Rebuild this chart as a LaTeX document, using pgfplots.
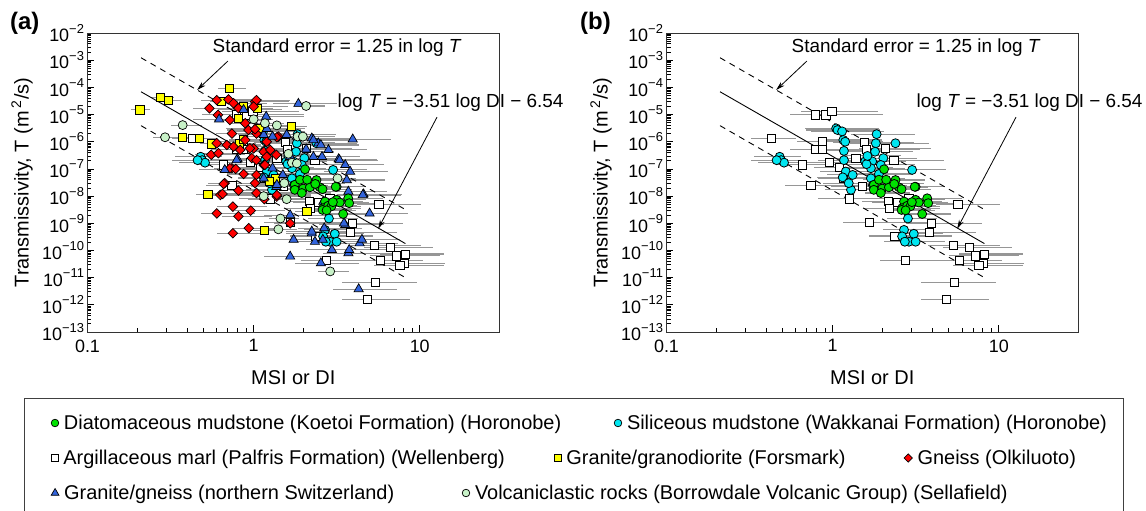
\documentclass[border=0pt]{standalone}
\usepackage{fontspec}
\setmainfont{Liberation Sans}
\usepackage{pgfplots}
\pgfplotsset{compat=1.18}
\usepackage{pgfplotstable}
\usetikzlibrary{arrows.meta}

\definecolor{cgreen}{RGB}{0,225,0}
\definecolor{ccyan}{RGB}{0,230,240}
\definecolor{cyellow}{RGB}{255,255,0}
\definecolor{cred}{RGB}{255,0,0}
\definecolor{cblue}{RGB}{50,100,220}
\definecolor{clgreen}{RGB}{200,242,200}
\definecolor{cbar}{RGB}{150,150,150}

% Argillaceous marl (Wellenberg)
\pgfplotstableread{
x y em ep
0.79 9.7e-6 0.30 1.30
0.91 9.7e-6 0.30 1.20
0.99 1.3e-5 0.35 0.90
0.43 1.3e-6 0.25 0.40
0.87 1.0e-6 0.30 1.00
0.79 5.3e-7 0.30 1.10
0.87 5.3e-7 0.35 1.20
0.66 1.4e-7 0.30 0.90
0.74 2.4e-8 0.30 0.90
0.96 1.7e-7 0.30 1.00
1.10 1.15e-7 0.30 1.10
1.26 7.9e-9 0.35 1.20
1.55 9.3e-7 0.35 1.00
1.59 5.3e-7 0.30 1.10
2.07 5.7e-7 0.30 0.90
2.34 2.1e-7 0.30 1.00
1.38 2.5e-7 0.30 1.10
1.16 4.5e-8 0.30 1.00
1.51 2.2e-8 0.35 1.20
2.16 6.3e-9 0.30 1.10
2.20 3.6e-9 0.30 1.00
2.88 8.3e-9 0.30 1.10
2.45 5.8e-9 0.30 1.00
1.66 1.1e-9 0.30 1.40
2.37 3.4e-10 0.30 1.20
3.83 4.6e-10 0.30 0.90
3.94 1.0e-9 0.30 1.00
2.75 4.3e-11 0.30 1.30
4.86 1.6e-12 0.30 0.80
5.68 5.0e-9 0.26 0.78
5.36 1.5e-10 0.30 0.90
6.64 1.3e-10 0.30 0.80
7.20 6.3e-11 0.30 0.85
8.18 7.4e-11 0.30 0.70
8.07 3.4e-11 0.30 0.75
7.60 2.9e-11 0.30 0.85
5.78 4.2e-11 0.30 0.80
5.40 6.8e-12 0.37 0.78
}\tabSq

% Siliceous mudstone (Horonobe)
\pgfplotstableread{
x y em ep
1.05 3.1e-6 0.35 0.80
1.07 2.7e-6 0.35 0.80
1.14 2.4e-6 0.35 0.80
1.16 1.16e-6 0.30 0.70
1.19 1.0e-6 0.30 0.70
1.17 4.6e-7 0.30 0.70
1.17 2.1e-7 0.30 0.70
1.20 8.0e-8 0.30 0.60
1.15 4.9e-8 0.30 0.60
1.32 6.0e-8 0.30 0.60
1.29 1.7e-8 0.30 0.60
1.84 1.9e-6 0.30 0.70
1.82 8.8e-7 0.30 0.70
1.80 4.3e-7 0.30 0.70
2.39 8.8e-7 0.30 0.60
2.02 2.5e-7 0.30 0.60
1.73 1.9e-7 0.30 0.60
1.57 1.9e-7 0.30 0.60
1.70 1.06e-7 0.30 0.60
1.95 1.4e-7 0.30 0.60
1.70 4.5e-8 0.30 0.60
3.01 9.2e-8 0.30 0.60
0.48 2.8e-7 0.30 0.35
0.49 2.1e-7 0.30 0.35
0.51 1.7e-7 0.30 0.35
0.46 2.1e-7 0.30 0.35
2.84 1.5e-9 0.25 0.50
2.69 5.7e-10 0.25 0.50
2.62 3.3e-10 0.25 0.50
3.08 4.1e-10 0.25 0.50
2.88 2.1e-10 0.25 0.50
3.16 2.1e-10 0.25 0.50
2.72 2.1e-10 0.25 0.50
1.60 1.5e-7 0.30 0.60
1.25 3.0e-8 0.30 0.60
1.75 2.5e-8 0.30 0.60
1.62 3.0e-7 0.30 0.60
1.90 6.5e-8 0.30 0.60
}\tabCy

% Diatomaceous mudstone (Horonobe)
\pgfplotstableread{
x y em ep
2.04 9.7e-8 0.20 0.50
2.39 3.9e-8 0.20 0.50
1.77 2.6e-8 0.20 0.50
1.99 1.9e-8 0.20 0.50
1.77 1.7e-8 0.20 0.50
1.95 1.3e-8 0.20 0.50
2.18 2.1e-8 0.20 0.50
2.51 2.1e-8 0.20 0.50
3.16 2.2e-8 0.20 0.50
2.69 6.3e-9 0.20 0.50
3.16 7.3e-9 0.20 0.50
3.30 5.8e-9 0.20 0.50
3.71 8.3e-9 0.20 0.50
3.76 5.5e-9 0.20 0.50
2.62 3.6e-9 0.20 0.50
2.81 4.4e-9 0.20 0.50
2.94 4.2e-9 0.20 0.50
3.46 2.2e-9 0.20 0.50
2.60 3.1e-9 0.20 0.50
2.35 2.8e-8 0.20 0.50
2.60 1.8e-8 0.20 0.50
1.90 4.0e-8 0.20 0.50
2.10 4.0e-8 0.20 0.50
3.12 2.2e-8 0.20 0.50
3.00 6.0e-9 0.20 0.50
2.75 3.0e-9 0.20 0.50
}\tabGr

% Granite/granodiorite (Forsmark)
\pgfplotstableread{
x y em ep
0.207 1.48e-5 0.12 0.15
0.276 4.2e-5 0.12 0.20
0.307 3.4e-5 0.12 0.20
0.716 9.2e-5 0.15 0.25
0.374 1.4e-6 0.12 0.20
0.470 1.34e-6 0.12 0.20
0.560 8.3e-7 0.15 0.25
0.643 3.0e-5 0.15 0.25
0.811 7.3e-6 0.15 0.25
1.05 1.7e-5 0.15 0.25
1.08 3.1e-6 0.15 0.25
0.822 8.3e-7 0.15 0.25
1.68 3.6e-6 0.15 0.25
0.530 1.17e-8 0.15 0.25
1.35 4.5e-8 0.15 0.25
2.09 2.7e-9 0.15 0.25
1.16 5.3e-10 0.15 0.25
0.87 2.0e-5 0.15 0.25
0.87 1.2e-6 0.15 0.25
1.25 3.5e-8 0.15 0.25
}\tabYe

% Gneiss (Olkiluoto)
\pgfplotstableread{
x y em ep
0.542 1.7e-5 0.20 0.60
0.60 3.4e-5 0.20 0.60
0.705 3.6e-5 0.20 0.60
0.757 2.6e-5 0.20 0.60
0.81 1.7e-5 0.20 0.60
1.02 3.0e-5 0.20 0.60
1.04 3.4e-5 0.20 0.60
1.00 1.95e-5 0.20 0.60
0.61 9.7e-6 0.20 0.60
0.72 6.3e-6 0.20 0.60
0.74 2.0e-6 0.20 0.60
0.89 4.8e-6 0.20 0.60
0.93 2.7e-6 0.20 0.60
1.04 2.0e-6 0.20 0.60
0.60 8.8e-7 0.20 0.60
0.69 7.6e-7 0.20 0.60
0.757 6.6e-7 0.20 0.60
0.83 5.0e-7 0.20 0.60
0.555 3.3e-7 0.20 0.60
0.614 3.8e-7 0.20 0.60
1.00 5.7e-7 0.20 0.60
1.15 4.3e-7 0.20 0.60
1.20 2.8e-7 0.20 0.60
0.975 2.5e-7 0.20 0.60
1.37 3.3e-7 0.20 0.60
1.41 1.55e-6 0.20 0.60
1.20 1.0e-6 0.20 0.60
1.15 1.4e-7 0.20 0.60
0.87 6.5e-8 0.20 0.60
0.74 1.06e-7 0.20 0.60
0.67 3.0e-8 0.20 0.60
1.04 6.0e-8 0.20 0.60
1.02 3.0e-8 0.20 0.60
1.04 1.3e-8 0.20 0.60
1.16 7.7e-9 0.20 0.60
0.81 1.6e-8 0.20 0.60
0.63 1.1e-8 0.20 0.60
0.60 2.3e-9 0.20 0.70
0.75 4.1e-9 0.20 0.60
0.81 1.8e-9 0.20 0.60
0.96 2.9e-9 0.20 0.60
0.935 6.6e-10 0.20 0.60
0.75 4.3e-10 0.20 0.55
1.38 9.6e-9 0.20 0.60
1.66 1.0e-9 0.20 0.60
1.02 2.9e-6 0.20 0.60
0.89 1.16e-6 0.20 0.60
1.38 1.46e-6 0.20 0.60
0.95 5.7e-7 0.20 0.60
1.26 5.0e-7 0.20 0.60
1.04 2.1e-7 0.20 0.60
0.72 1.06e-7 0.20 0.60
0.78 1.0e-7 0.20 0.60
1.17 1.4e-7 0.20 0.60
1.38 1.1e-8 0.20 0.60
0.65 1.2e-8 0.20 0.60
0.66 2.8e-8 0.20 0.60
}\tabRd

% Granite/gneiss (northern Switzerland)
\pgfplotstableread{
x y em ep
0.62 6.7e-6 0.30 0.70
0.87 1.5e-5 0.30 0.70
1.86 2.5e-5 0.30 0.70
1.19 8.4e-6 0.30 0.70
1.15 1.8e-6 0.30 0.70
1.30 1.55e-6 0.30 0.70
1.58 1.8e-6 0.30 0.70
1.82 1.55e-6 0.30 0.70
2.24 1.34e-6 0.30 0.70
2.45 8.8e-7 0.30 0.70
2.82 5.0e-7 0.30 0.70
2.29 2.8e-7 0.30 0.70
2.58 2.8e-7 0.30 0.70
3.95 1.23e-6 0.30 0.70
3.25 2.3e-7 0.30 0.70
3.56 1.4e-7 0.30 0.70
3.81 8.0e-8 0.30 0.70
3.64 3.9e-8 0.30 0.70
3.72 1.47e-8 0.30 0.70
4.59 1.17e-8 0.30 0.70
4.99 2.3e-9 0.30 0.70
0.80 2.3e-7 0.30 0.70
0.67 9.2e-8 0.30 0.70
1.30 1.06e-7 0.30 0.70
1.15 4.5e-8 0.30 0.70
1.37 2.2e-8 0.30 0.70
1.66 2.0e-9 0.30 0.70
1.74 2.5e-10 0.30 0.70
1.66 6.0e-11 0.30 0.70
2.24 4.3e-10 0.30 0.70
2.34 2.1e-10 0.30 0.70
2.61 2.5e-10 0.30 0.70
2.66 6.6e-10 0.30 0.70
2.96 1.05e-10 0.30 0.70
2.54 3.4e-11 0.30 0.70
3.56 8.7e-10 0.30 0.70
3.72 8.0e-11 0.30 0.70
3.76 1.05e-10 0.30 0.70
4.35 1.85e-10 0.30 0.70
4.49 2.5e-10 0.30 0.70
4.29 3.8e-12 0.30 0.70
1.50 6.0e-8 0.30 0.70
2.29 1.16e-6 0.30 0.70
2.54 7.6e-7 0.30 0.70
3.29 2.1e-7 0.30 0.70
2.07 5.3e-7 0.30 0.70
4.54 1.1e-8 0.30 0.70
3.50 1.0e-9 0.30 0.70
2.24 5.0e-10 0.30 0.70
1.66 2.8e-7 0.30 0.70
1.38 2.6e-8 0.30 0.70
0.79 2.1e-7 0.30 0.70
2.63 6.3e-9 0.30 0.70
1.20 3.0e-6 0.30 0.70
}\tabBl

% Volcaniclastic rocks (Sellafield)
\pgfplotstableread{
x y em ep
0.374 4.1e-6 0.15 0.30
0.293 1.46e-6 0.15 0.30
1.00 6.7e-6 0.15 0.30
1.17 4.8e-6 0.15 0.30
1.38 4.0e-6 0.15 0.30
2.07 2.07e-5 0.15 0.30
1.84 1.55e-6 0.15 0.30
1.98 1.55e-6 0.15 0.30
1.62 3.6e-7 0.15 0.30
1.70 1.7e-7 0.15 0.30
1.82 1.6e-7 0.15 0.30
1.53 3.0e-8 0.15 0.30
1.58 7.7e-9 0.15 0.30
1.15 1.0e-8 0.15 0.30
1.45 1.5e-9 0.15 0.30
1.41 6.0e-10 0.15 0.30
2.89 1.7e-11 0.15 0.30
3.20 4.5e-8 0.15 0.30
}\tabLg

\newcommand{\tp}[1]{10\raisebox{0.48em}{\fontsize{13}{13}\selectfont −#1}}

\pgfplotsset{
  ebar/.style={only marks, mark=none, forget plot,
    error bars/x dir=both, error bars/x explicit relative,
    error bars/error mark=none,
    error bars/error bar style={draw=cbar, line width=1.1bp}},
  msq/.style={only marks, mark=square*, mark size=4.1bp, mark options={fill=white, draw=black, line width=0.8bp}},
  mcy/.style={only marks, mark=*, mark size=4.5bp, mark options={fill=ccyan, draw=black, line width=0.8bp}},
  mgr/.style={only marks, mark=*, mark size=4.5bp, mark options={fill=cgreen, draw=black, line width=0.8bp}},
  mye/.style={only marks, mark=square*, mark size=4.1bp, mark options={fill=cyellow, draw=black, line width=0.8bp}},
  mrd/.style={only marks, mark=square*, mark size=3.4bp, mark options={fill=cred, draw=black, line width=0.7bp, rotate=45}},
  mbl/.style={only marks, mark=triangle*, mark size=5.3bp, mark options={fill=cblue, draw=black, line width=0.7bp}},
  mlg/.style={only marks, mark=*, mark size=4.5bp, mark options={fill=clgreen, draw=black, line width=0.7bp}},
}

\begin{document}
\begin{tikzpicture}
% ---------------- panel (a)
\begin{axis}[at={(87.5bp,-332bp)}, anchor=south west,
    xmode=log, ymode=log, scale only axis, width=411.5bp, height=299bp,
    xmin=0.1, xmax=30, ymin=1e-13, ymax=1e-2,
    xtick={0.1,1,10}, xticklabels={0.1,1,10},
    ytick={1e-13,1e-12,1e-11,1e-10,1e-9,1e-8,1e-7,1e-6,1e-5,1e-4,1e-3,1e-2},
    yticklabels={\tp{13},\tp{12},\tp{11},\tp{10},\tp{9},\tp{8},\tp{7},\tp{6},\tp{5},\tp{4},\tp{3},\tp{2}},
    tick align=inside, xtick pos=left, ytick pos=left,
    major tick length=7bp, minor tick length=4bp,
    axis line style={line width=1bp, black!80},
    every tick/.style={black, line width=0.8bp},
    clip mode=individual,
    tick label style={font=\fontsize{18}{20}\selectfont},
    xticklabel style={yshift=-4bp},
    label style={font=\fontsize{20}{22}\selectfont},
    xlabel={MSI or DI},
    ylabel={Transmissivity, T (m\,\textsuperscript{2}/s)},
    xlabel style={at={(axis description cs:0.5,-0.154)}, anchor=center},
    ylabel style={at={(axis description cs:-0.159,0.5)}, anchor=center}]
\addplot[ebar] table[x=x,y=y,x error plus=ep,x error minus=em]{\tabSq};
\addplot[ebar] table[x=x,y=y,x error plus=ep,x error minus=em]{\tabCy};
\addplot[ebar] table[x=x,y=y,x error plus=ep,x error minus=em]{\tabYe};
\addplot[ebar] table[x=x,y=y,x error plus=ep,x error minus=em]{\tabRd};
\addplot[ebar] table[x=x,y=y,x error plus=ep,x error minus=em]{\tabBl};
\addplot[ebar] table[x=x,y=y,x error plus=ep,x error minus=em]{\tabLg};
\addplot[ebar] table[x=x,y=y,x error plus=ep,x error minus=em]{\tabGr};
\addplot[black, line width=0.9bp] coordinates {(0.21,6.9e-5) (8.2,1.79e-10)};
\addplot[black, line width=0.9bp, dash pattern=on 6bp off 5bp] coordinates {(0.21,1.23e-3) (8.2,3.18e-9)};
\addplot[black, line width=0.9bp, dash pattern=on 6bp off 5bp] coordinates {(0.21,3.9e-6) (8.2,1.0e-11)};
\addplot[msq] table[x=x,y=y]{\tabSq};
\addplot[mcy] table[x=x,y=y]{\tabCy};
\addplot[mye] table[x=x,y=y]{\tabYe};
\addplot[mrd] table[x=x,y=y]{\tabRd};
\addplot[mbl] table[x=x,y=y]{\tabBl};
\addplot[mlg] table[x=x,y=y]{\tabLg};
\addplot[mgr] table[x=x,y=y]{\tabGr};
\node[anchor=west, font=\fontsize{19}{21}\selectfont, inner sep=0pt] at (axis cs:0.565,2.8e-3) {Standard error = 1.25 in log \textit{T}};
\draw[black, line width=0.8bp, -{Stealth[length=9bp,width=5bp]}] (axis cs:0.70,9.3e-4) -- (axis cs:0.457,8e-5);
\node[anchor=west, font=\fontsize{19}{21}\selectfont, inner sep=0pt] at (axis cs:3.2,2.7e-5) {log \textit{T} = −3.51 log DI − 6.54};
\draw[black, line width=0.8bp, -{Stealth[length=9bp,width=5bp]}] (axis cs:12.7,8e-6) -- (axis cs:5.62,6.3e-10);
\end{axis}
% ---------------- panel (b)
\begin{axis}[at={(666.5bp,-332bp)}, anchor=south west,
    xmode=log, ymode=log, scale only axis, width=411.5bp, height=299bp,
    xmin=0.1, xmax=30, ymin=1e-13, ymax=1e-2,
    xtick={0.1,1,10}, xticklabels={0.1,1,10},
    ytick={1e-13,1e-12,1e-11,1e-10,1e-9,1e-8,1e-7,1e-6,1e-5,1e-4,1e-3,1e-2},
    yticklabels={\tp{13},\tp{12},\tp{11},\tp{10},\tp{9},\tp{8},\tp{7},\tp{6},\tp{5},\tp{4},\tp{3},\tp{2}},
    tick align=inside, xtick pos=left, ytick pos=left,
    major tick length=7bp, minor tick length=4bp,
    axis line style={line width=1bp, black!80},
    every tick/.style={black, line width=0.8bp},
    clip mode=individual,
    tick label style={font=\fontsize{18}{20}\selectfont},
    xticklabel style={yshift=-4bp},
    label style={font=\fontsize{20}{22}\selectfont},
    xlabel={MSI or DI},
    ylabel={Transmissivity, T (m\,\textsuperscript{2}/s)},
    xlabel style={at={(axis description cs:0.5,-0.154)}, anchor=center},
    ylabel style={at={(axis description cs:-0.159,0.5)}, anchor=center}]
\addplot[ebar] table[x=x,y=y,x error plus=ep,x error minus=em]{\tabSq};
\addplot[ebar] table[x=x,y=y,x error plus=ep,x error minus=em]{\tabCy};
\addplot[ebar] table[x=x,y=y,x error plus=ep,x error minus=em]{\tabGr};
\addplot[black, line width=0.9bp] coordinates {(0.21,6.9e-5) (8.2,1.79e-10)};
\addplot[black, line width=0.9bp, dash pattern=on 6bp off 5bp] coordinates {(0.21,1.23e-3) (8.2,3.18e-9)};
\addplot[black, line width=0.9bp, dash pattern=on 6bp off 5bp] coordinates {(0.21,3.9e-6) (8.2,1.0e-11)};
\addplot[msq] table[x=x,y=y]{\tabSq};
\addplot[mcy] table[x=x,y=y]{\tabCy};
\addplot[mgr] table[x=x,y=y]{\tabGr};
\node[anchor=west, font=\fontsize{19}{21}\selectfont, inner sep=0pt] at (axis cs:0.565,2.8e-3) {Standard error = 1.25 in log \textit{T}};
\draw[black, line width=0.8bp, -{Stealth[length=9bp,width=5bp]}] (axis cs:0.70,9.3e-4) -- (axis cs:0.457,8e-5);
\node[anchor=west, font=\fontsize{19}{21}\selectfont, inner sep=0pt] at (axis cs:3.2,2.7e-5) {log \textit{T} = −3.51 log DI − 6.54};
\draw[black, line width=0.8bp, -{Stealth[length=9bp,width=5bp]}] (axis cs:12.7,8e-6) -- (axis cs:5.62,6.3e-10);
\end{axis}
% panel letters
\node[font=\bfseries\fontsize{24}{26}\selectfont] at (24.7bp,-23bp) {(a)};
\node[font=\bfseries\fontsize{24}{26}\selectfont] at (595.5bp,-23bp) {(b)};
% legend frame
\draw[black!75, line width=1bp] (24bp,-398bp) rectangle (1123bp,-530bp);
% legend entries, one small hidden axis each
\begin{axis}[at={(51bp,-423bp)}, anchor=center, hide axis, scale only axis, width=1bp, height=1bp,
    xmin=0, xmax=1, ymin=0, ymax=1,
    legend style={at={(0.5,0.5)}, anchor=west, draw=none, fill=none, inner sep=0pt,
      nodes={inner sep=2.2bp}, font=\fontsize{20}{22}\selectfont},
    legend image code/.code={\draw[#1] plot coordinates {(0bp,0bp)};}]
\addlegendimage{only marks, mark=*, mark size=3.8bp, mark options={fill=cgreen, draw=black, line width=0.7bp}}
\addlegendentry{\hspace{3bp}Diatomaceous mudstone (Koetoi Formation) (Horonobe)}
\end{axis}
\begin{axis}[at={(614bp,-423bp)}, anchor=center, hide axis, scale only axis, width=1bp, height=1bp,
    xmin=0, xmax=1, ymin=0, ymax=1,
    legend style={at={(0.5,0.5)}, anchor=west, draw=none, fill=none, inner sep=0pt,
      nodes={inner sep=2.2bp}, font=\fontsize{20}{22}\selectfont},
    legend image code/.code={\draw[#1] plot coordinates {(0bp,0bp)};}]
\addlegendimage{only marks, mark=*, mark size=3.8bp, mark options={fill=ccyan, draw=black, line width=0.7bp}}
\addlegendentry{\hspace{3bp}Siliceous mudstone (Wakkanai Formation) (Horonobe)}
\end{axis}
\begin{axis}[at={(51bp,-458bp)}, anchor=center, hide axis, scale only axis, width=1bp, height=1bp,
    xmin=0, xmax=1, ymin=0, ymax=1,
    legend style={at={(0.5,0.5)}, anchor=west, draw=none, fill=none, inner sep=0pt,
      nodes={inner sep=2.2bp}, font=\fontsize{20}{22}\selectfont},
    legend image code/.code={\draw[#1] plot coordinates {(0bp,0bp)};}]
\addlegendimage{only marks, mark=square*, mark size=3.5bp, mark options={fill=white, draw=black, line width=0.7bp}}
\addlegendentry{\hspace{3bp}Argillaceous marl (Palfris Formation) (Wellenberg)}
\end{axis}
\begin{axis}[at={(554bp,-458bp)}, anchor=center, hide axis, scale only axis, width=1bp, height=1bp,
    xmin=0, xmax=1, ymin=0, ymax=1,
    legend style={at={(0.5,0.5)}, anchor=west, draw=none, fill=none, inner sep=0pt,
      nodes={inner sep=2.2bp}, font=\fontsize{20}{22}\selectfont},
    legend image code/.code={\draw[#1] plot coordinates {(0bp,0bp)};}]
\addlegendimage{only marks, mark=square*, mark size=3.5bp, mark options={fill=cyellow, draw=black, line width=0.7bp}}
\addlegendentry{\hspace{3bp}Granite/granodiorite (Forsmark)}
\end{axis}
\begin{axis}[at={(904bp,-458bp)}, anchor=center, hide axis, scale only axis, width=1bp, height=1bp,
    xmin=0, xmax=1, ymin=0, ymax=1,
    legend style={at={(0.5,0.5)}, anchor=west, draw=none, fill=none, inner sep=0pt,
      nodes={inner sep=2.2bp}, font=\fontsize{20}{22}\selectfont},
    legend image code/.code={\draw[#1] plot coordinates {(0bp,0bp)};}]
\addlegendimage{only marks, mark=square*, mark size=2.9bp, mark options={fill=cred, draw=black, line width=0.7bp, rotate=45}}
\addlegendentry{\hspace{3bp}Gneiss (Olkiluoto)}
\end{axis}
\begin{axis}[at={(51bp,-493bp)}, anchor=center, hide axis, scale only axis, width=1bp, height=1bp,
    xmin=0, xmax=1, ymin=0, ymax=1,
    legend style={at={(0.5,0.5)}, anchor=west, draw=none, fill=none, inner sep=0pt,
      nodes={inner sep=2.2bp}, font=\fontsize{20}{22}\selectfont},
    legend image code/.code={\draw[#1] plot coordinates {(0bp,0bp)};}]
\addlegendimage{only marks, mark=triangle*, mark size=4.5bp, mark options={fill=cblue, draw=black, line width=0.7bp}}
\addlegendentry{\hspace{3bp}Granite/gneiss (northern Switzerland)}
\end{axis}
\begin{axis}[at={(462bp,-493bp)}, anchor=center, hide axis, scale only axis, width=1bp, height=1bp,
    xmin=0, xmax=1, ymin=0, ymax=1,
    legend style={at={(0.5,0.5)}, anchor=west, draw=none, fill=none, inner sep=0pt,
      nodes={inner sep=2.2bp}, font=\fontsize{20}{22}\selectfont},
    legend image code/.code={\draw[#1] plot coordinates {(0bp,0bp)};}]
\addlegendimage{only marks, mark=*, mark size=3.8bp, mark options={fill=clgreen, draw=black, line width=0.7bp}}
\addlegendentry{\hspace{3bp}Volcaniclastic rocks (Borrowdale Volcanic Group) (Sellafield)}
\end{axis}
\pgfresetboundingbox
\useasboundingbox (0bp,0bp) rectangle (1146bp,-511bp);
\end{tikzpicture}
\end{document}
